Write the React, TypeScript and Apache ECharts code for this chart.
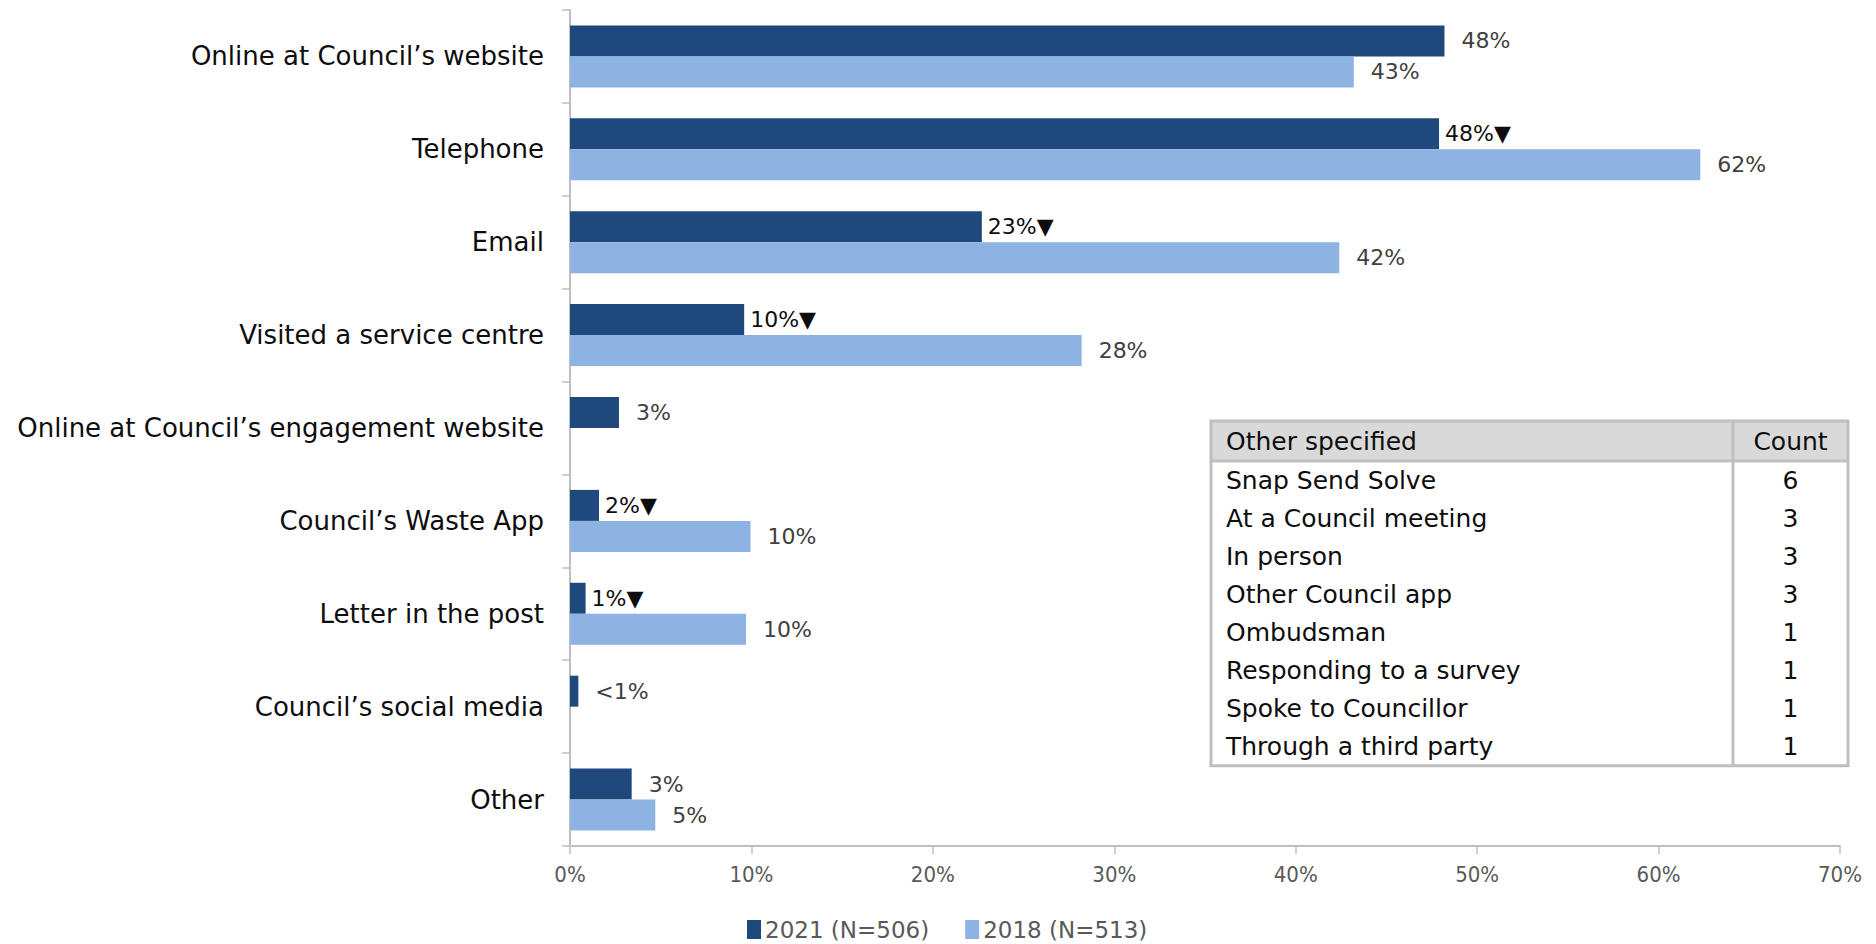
import React, { useEffect, useRef } from "react";
import * as echarts from "echarts";

const categories = [
  "Online at Council\u2019s website",
  "Telephone",
  "Email",
  "Visited a service centre",
  "Online at Council\u2019s engagement website",
  "Council\u2019s Waste App",
  "Letter in the post",
  "Council\u2019s social media",
  "Other",
];
const values2021 = [48.2, 47.9, 22.7, 9.6, 2.7, 1.6, 0.86, 0.46, 3.4];
const values2018: (number | null)[] = [43.2, 62.3, 42.4, 28.2, null, 9.95, 9.7, null, 4.7];
const sigDown2021 = [false, true, true, true, false, true, true, false, false];
const legendNames = ["2021 (N=506)", "2018 (N=513)"];
const xMin = 0;
const xMax = 70;
const xStep = 10;

const tableHeader = ["Other specified", "Count"];
const otherSpecified = [
  "Snap Send Solve",
  "At a Council meeting",
  "In person",
  "Other Council app",
  "Ombudsman",
  "Responding to a survey",
  "Spoke to Councillor",
  "Through a third party",
];
const otherCounts = [6, 3, 3, 3, 1, 1, 1, 1];

const FONT = "'DejaVu Sans', sans-serif";
const DARK = "#1f497d";
const LIGHT = "#8db3e2";

function fmt(v: number, sig: boolean) {
  const base = v < 1 && v > 0 && Math.round(v) === 0 ? "<1%" : Math.round(v) + "%";
  return base + (sig ? "\u25BC" : "");
}

export default function App() {
  const ref = useRef<HTMLDivElement>(null);
  useEffect(() => {
    if (!ref.current) return;
    const chart = echarts.init(ref.current, undefined, { renderer: "svg" });

    const tX = 1211, tY = 421, tW = 637, headH = 40, rowH = 38.1, divX = 1733;
    const tH = headH + rowH * otherSpecified.length;
    const graphic: any[] = [
      { type: "rect", shape: { x: tX, y: tY, width: tW, height: headH }, style: { fill: "#d9d9d9" } },
      { type: "rect", shape: { x: tX, y: tY, width: tW, height: tH }, style: { fill: "none", stroke: "#bfbfbf", lineWidth: 3 } },
      { type: "line", shape: { x1: tX, y1: tY + headH, x2: tX + tW, y2: tY + headH }, style: { stroke: "#bfbfbf", lineWidth: 3 } },
      { type: "line", shape: { x1: divX, y1: tY, x2: divX, y2: tY + tH }, style: { stroke: "#bfbfbf", lineWidth: 3 } },
      { type: "text", x: tX + 15, y: tY + headH / 2, style: { text: tableHeader[0], font: `25px ${FONT}`, fill: "#0d0d0d", verticalAlign: "middle" } },
      { type: "text", x: (divX + tX + tW) / 2, y: tY + headH / 2, style: { text: tableHeader[1], font: `25px ${FONT}`, fill: "#0d0d0d", verticalAlign: "middle", align: "center" } },
    ];
    otherSpecified.forEach((name, i) => {
      const cy = tY + headH + rowH * i + rowH / 2;
      graphic.push({ type: "text", x: tX + 15, y: cy, style: { text: name, font: `25px ${FONT}`, fill: "#0d0d0d", verticalAlign: "middle" } });
      graphic.push({ type: "text", x: (divX + tX + tW) / 2, y: cy, style: { text: String(otherCounts[i]), font: `25px ${FONT}`, fill: "#0d0d0d", verticalAlign: "middle", align: "center" } });
    });

    chart.setOption({
      animation: false,
      grid: { left: 570, right: 36, top: 10, bottom: 98, containLabel: false },
      legend: {
        data: legendNames,
        left: 742,
        top: 913,
        itemWidth: 14,
        itemHeight: 19,
        itemGap: 36,
        icon: "rect",
        textStyle: { fontFamily: FONT, fontSize: 23, color: "#595959", padding: [0, 0, 0, -1] },
      },
      xAxis: {
        type: "value",
        min: xMin,
        max: xMax,
        interval: xStep,
        axisLine: { show: true, lineStyle: { color: "#bfbfbf", width: 2 } },
        axisTick: { show: true, length: 8, lineStyle: { color: "#bfbfbf", width: 1.5 } },
        splitLine: { show: false },
        axisLabel: {
          formatter: (v: number) => v + "%",
          fontFamily: "'DejaVu Sans Condensed', 'DejaVu Sans', sans-serif",
          fontSize: 22,
          color: "#595959",
          margin: 17,
        },
      },
      yAxis: {
        type: "category",
        data: categories,
        inverse: true,
        axisLine: { show: true, lineStyle: { color: "#bfbfbf", width: 2 } },
        axisTick: { show: true, length: 8, lineStyle: { color: "#bfbfbf", width: 1.5 } },
        axisLabel: { fontFamily: FONT, fontSize: 26, color: "#0d0d0d", margin: 26 },
      },
      graphic,
      series: [
        {
          name: legendNames[0],
          type: "bar",
          barWidth: 31,
          barGap: "0%",
          itemStyle: { color: DARK },
          data: values2021.map((v, i) => ({
            value: v,
            label: {
              show: true,
              position: "right",
              distance: sigDown2021[i] ? 6 : 17,
              formatter: fmt(v, sigDown2021[i]),
              fontFamily: FONT,
              fontSize: 22,
              color: sigDown2021[i] ? "#0d0d0d" : "#404040",
            },
          })),
        },
        {
          name: legendNames[1],
          type: "bar",
          barWidth: 31,
          barGap: "0%",
          itemStyle: { color: LIGHT },
          data: values2018.map((v) =>
            v == null
              ? null
              : {
                  value: v,
                  label: {
                    show: true,
                    position: "right",
                    distance: 17,
                    formatter: fmt(v, false),
                    fontFamily: FONT,
                    fontSize: 22,
                    color: "#404040",
                  },
                }
          ),
        },
      ],
    });
    return () => chart.dispose();
  }, []);
  return (
    <div
      ref={ref}
      style={{ position: "fixed", left: 0, top: 0, width: 1876, height: 944, background: "#fff" }}
    />
  );
}
